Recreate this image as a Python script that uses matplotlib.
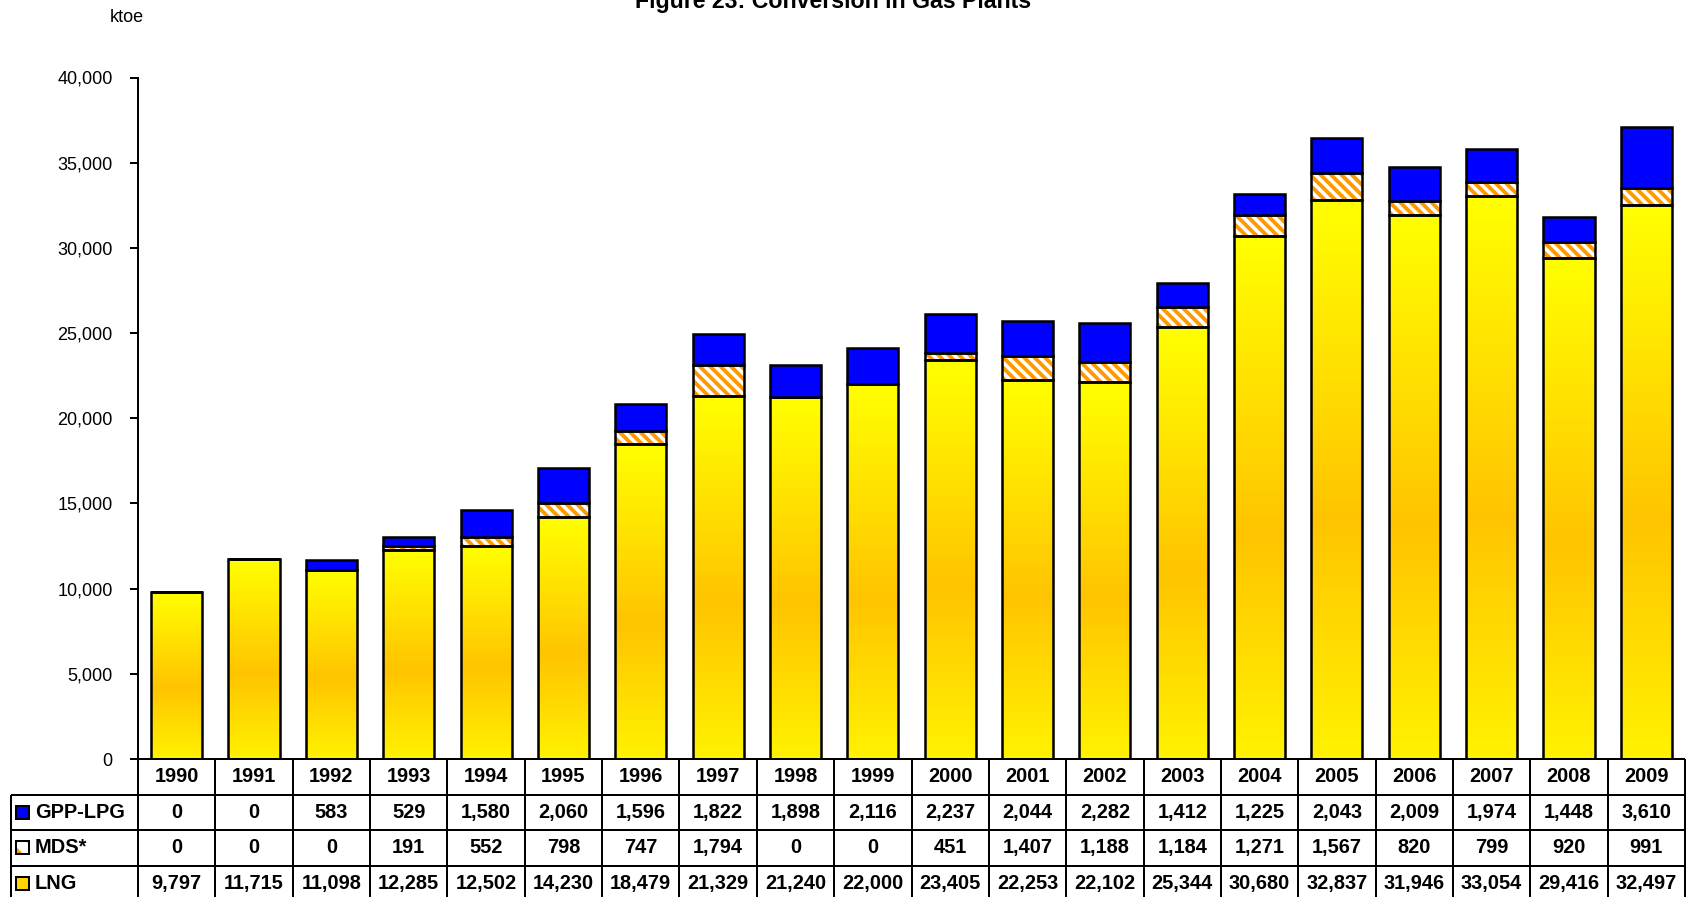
import numpy as np
import matplotlib
matplotlib.use("Agg")
import matplotlib.pyplot as plt
from matplotlib.colors import LinearSegmentedColormap
from matplotlib.patches import Rectangle
from matplotlib.ticker import StrMethodFormatter

plt.rcParams['font.family'] = ['Liberation Sans', 'DejaVu Sans']
plt.rcParams['hatch.linewidth'] = 2.2

# data (ktoe)
years = [str(y) for y in range(1990, 2010)]
gpp_lpg = [0, 0, 583, 529, 1580, 2060, 1596, 1822, 1898, 2116,
           2237, 2044, 2282, 1412, 1225, 2043, 2009, 1974, 1448, 3610]
mds = [0, 0, 0, 191, 552, 798, 747, 1794, 0, 0,
       451, 1407, 1188, 1184, 1271, 1567, 820, 799, 920, 991]
lng = [9797, 11715, 11098, 12285, 12502, 14230, 18479, 21329, 21240, 22000,
       23405, 22253, 22102, 25344, 30680, 32837, 31946, 33054, 29416, 32497]
row_names = ['GPP-LPG', 'MDS*', 'LNG']
rows = [gpp_lpg, mds, lng]

W, H, DPI = 1688, 897, 125
fig = plt.figure(figsize=(W / DPI, H / DPI), dpi=DPI)

ax_l, ax_r, ax_b, ax_t = 138, 1685, 759, 77.5
ax = fig.add_axes([ax_l / W, 1 - ax_b / H, (ax_r - ax_l) / W, (ax_b - ax_t) / H])

x = np.arange(len(years))
bw = 0.66
lw = 1.45
hatch = '\\' * 4

# LNG bars with vertical gradient
grad = LinearSegmentedColormap.from_list(
    'lng', [(0, '#FFF200'), (0.43, '#FFC400'), (1, '#FFFF00')])
lng_bars = ax.bar(x, lng, bw, facecolor='none', edgecolor='black', linewidth=lw, zorder=3)
g = np.linspace(0, 1, 256).reshape(-1, 1)
for b in lng_bars:
    im = ax.imshow(g, cmap=grad, origin='lower', aspect='auto', zorder=2,
                   extent=(b.get_x(), b.get_x() + b.get_width(), 0, b.get_height()))
    im.set_clip_path(b)

# MDS hatched
bottom2 = np.array(lng)
ax.bar(x, mds, bw, bottom=bottom2, color='white', edgecolor='#FF9900',
       hatch=hatch, linewidth=0, zorder=2)
ax.bar(x, mds, bw, bottom=bottom2, facecolor='none', edgecolor='black',
       linewidth=lw, zorder=3)

# GPP-LPG
bottom3 = bottom2 + np.array(mds)
ax.bar(x, gpp_lpg, bw, bottom=bottom3, color='#0000FF', edgecolor='black',
       linewidth=lw, zorder=3)

ax.set_xlim(-0.5, len(years) - 0.5)
ax.set_ylim(0, 40000)
ax.set_yticks(range(0, 40001, 5000))
ax.yaxis.set_major_formatter(StrMethodFormatter('{x:,.0f}'))
ax.set_xticks([])
ax.tick_params(axis='y', direction='out', length=4.6, width=1.15, pad=10,
               labelsize=10.4, colors='black')
for s in ['top', 'right', 'bottom']:
    ax.spines[s].set_visible(False)
ax.spines['left'].set_linewidth(1.15)

fig.text(833 / W, 1 - 8 / H, 'Figure 23: Conversion in Gas Plants',
         ha='center', va='baseline', fontsize=13.3, weight='bold')
fig.text(127 / W, 1 - 17 / H, 'ktoe', ha='center', va='center', fontsize=10.4)

# data table below the chart
tl = 11
cw = (ax_r - ax_l) / len(years)
rh = 35.5
tab = fig.add_axes([tl / W, 0, (ax_r - tl) / W, (H - ax_b) / H])
x_left = -0.5 - (ax_l - tl) / cw
ybot = (H - ax_b) / rh
tab.set_xlim(x_left, len(years) - 0.5)
tab.set_ylim(ybot, 0)
tab.axis('off')

tlw = 1.15
tab.vlines(np.arange(len(years) + 1) - 0.5, 0, ybot, color='black', lw=tlw, clip_on=False)
tab.hlines(0, -0.5, len(years) - 0.5, color='black', lw=tlw, clip_on=False)
tab.hlines([1, 2, 3], x_left, len(years) - 0.5, color='black', lw=tlw, clip_on=False)
tab.vlines(x_left, 1, ybot, color='black', lw=tlw, clip_on=False)

fs = 11.5
for i, yr in enumerate(years):
    tab.text(i, 0.5, yr, ha='center', va='center', fontsize=fs, weight='bold')
for r, vals in enumerate(rows):
    for i, v in enumerate(vals):
        tab.text(i, r + 1.5, f'{v:,}', ha='center', va='center', fontsize=fs, weight='bold')

key_colors = ['#0000FF', None, '#FFD200']
kx = x_left + (16 - tl) / cw
kw, kh = 13 / cw, 13 / rh
for r, (name, kc) in enumerate(zip(row_names, key_colors)):
    yc = r + 1.5
    if kc is None:
        tab.add_patch(Rectangle((kx, yc - kh / 2), kw, kh, facecolor='white',
                                edgecolor='#FF9900', hatch='\\\\', lw=0))
        tab.add_patch(Rectangle((kx, yc - kh / 2), kw, kh, facecolor='none',
                                edgecolor='black', lw=1.15))
    else:
        tab.add_patch(Rectangle((kx, yc - kh / 2), kw, kh, facecolor=kc,
                                edgecolor='black', lw=1.15))
    tab.text(x_left + (35 - tl) / cw, yc, name, ha='left', va='center',
             fontsize=fs, weight='bold')

fig.savefig('out.png', dpi=DPI)
